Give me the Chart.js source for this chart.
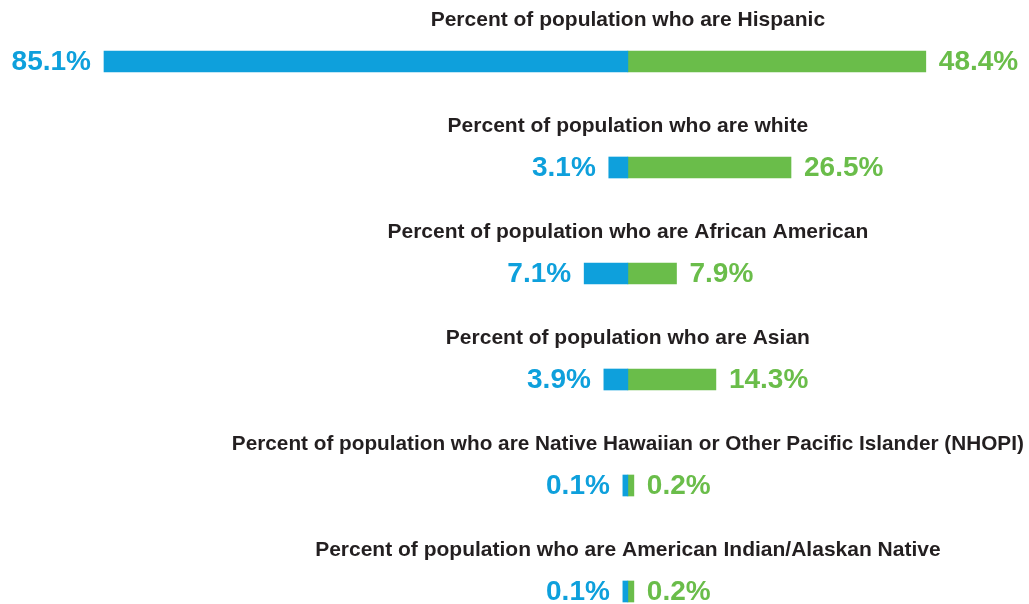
<!DOCTYPE html>
<html>
<head>
<meta charset="utf-8">
<title>Percent of population by group</title>
<script src="https://cdn.jsdelivr.net/npm/chart.js@4/dist/chart.umd.min.js"></script>
<style>
    body { margin: 0; background: #ffffff; }
    #wrap { width: 1029px; height: 604px; }
</style>
</head>
<body>
<div id="wrap"><canvas id="popChart" width="1029" height="604"></canvas></div>
<script>
// --- datos ---
const categories = [
    'Hispanic',
    'white',
    'African American',
    'Asian',
    'Native Hawaiian or Other Pacific Islander (NHOPI)',
    'American Indian/Alaskan Native'
];
const leftSeries = [85.1, 3.1, 7.1, 3.9, 0.1, 0.1];   // barras azules (hacia la izquierda)
const rightSeries = [48.4, 26.5, 7.9, 14.3, 0.2, 0.2]; // barras verdes (hacia la derecha)

const BLUE = '#0ea0dc';
const GREEN = '#6abd4a';
const TEXT = '#231f20';

// Títulos de cada fila y etiquetas de valor a los lados de las barras
const labelPlugin = {
    id: 'rowLabels',
    afterDatasetsDraw(chart) {
        const ctx = chart.ctx;
        const xScale = chart.scales.x;
        const cx = xScale.getPixelForValue(0);
        const left = chart.getDatasetMeta(0).data;
        const right = chart.getDatasetMeta(1).data;

        ctx.save();
        categories.forEach((cat, i) => {
            const y = left[i].y;

            ctx.fillStyle = TEXT;
            ctx.font = 'bold 21px "Liberation Sans", Arial, sans-serif';
            ctx.textAlign = 'center';
            ctx.textBaseline = 'alphabetic';
            ctx.fillText('Percent of population who are ' + cat, cx, y - 36, 792);

            ctx.font = 'bold 28px "Liberation Sans", Arial, sans-serif';
            ctx.textBaseline = 'middle';

            ctx.fillStyle = BLUE;
            ctx.textAlign = 'right';
            ctx.fillText(leftSeries[i].toFixed(1) + '%', left[i].x - 13, y + 1);

            ctx.fillStyle = GREEN;
            ctx.textAlign = 'left';
            ctx.fillText(rightSeries[i].toFixed(1) + '%', right[i].x + 13, y + 1);
        });
        ctx.restore();
    }
};

new Chart(document.getElementById('popChart'), {
    type: 'bar',
    data: {
        labels: categories,
        datasets: [{
            data: leftSeries.map(v => -v),
            backgroundColor: BLUE,
            barThickness: 21,
            minBarLength: 5,
            clip: false
        }, {
            data: rightSeries,
            backgroundColor: GREEN,
            barThickness: 21,
            minBarLength: 6,
            clip: false
        }]
    },
    options: {
        indexAxis: 'y',
        responsive: false,
        animation: false,
        layout: {
            padding: { left: 104, right: 1, top: 61.5, bottom: 12.5 }
        },
        scales: {
            x: { display: false, stacked: true, min: -85.1, max: 65 },
            y: { display: false, stacked: true, offset: false }
        },
        plugins: {
            legend: { display: false },
            tooltip: { enabled: false }
        }
    },
    plugins: [labelPlugin]
});
</script>
</body>
</html>
